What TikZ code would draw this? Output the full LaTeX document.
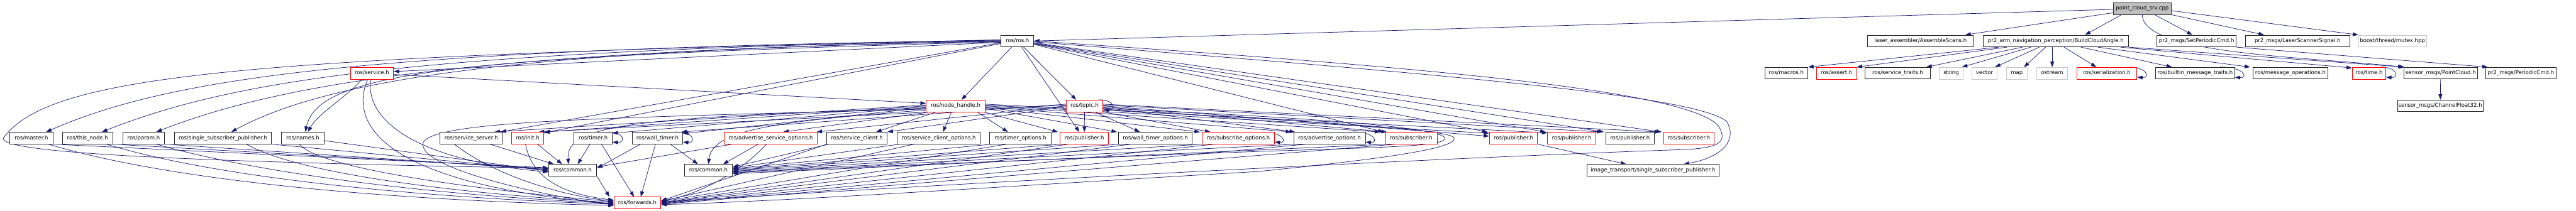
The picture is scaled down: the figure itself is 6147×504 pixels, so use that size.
\documentclass[tikz,border=0pt]{standalone}
\usepackage{fontspec}
\setmainfont{DejaVu Sans}
\usetikzlibrary{arrows.meta}
\definecolor{edgec}{HTML}{191970}
\definecolor{grayfill}{HTML}{BFBFBF}
\definecolor{grayline}{HTML}{C8C8C8}
\pgfdeclarelayer{bg}
\pgfsetlayers{bg,main}
\newcommand\nodefont{\fontsize{12.8}{15}\selectfont}
\tikzset{
  nb/.style={draw=black!85, line width=1.4pt, fill=white, minimum height=28pt, inner sep=0pt,
             font=\nodefont, text height=9.6pt, text depth=2.6pt},
  nr/.style={nb, draw=red, line width=1.2pt},
  ng/.style={nb, draw=grayline, line width=1.2pt},
  e/.style={draw=edgec, line width=1.1pt, -{Triangle[length=13pt,width=9pt]}},
}
\begin{document}
\begin{tikzpicture}[x=1pt,y=1pt]
\useasboundingbox (0,0) rectangle (6147,-504);
% row 0
\node[nb, fill=grayfill, minimum width=138pt] (pcs) at (5112,-20.5) {point\_cloud\_srv.cpp};
% row 1
\node[nb, minimum width=78pt] (rosh) at (2428,-98) {ros/ros.h};
\node[nb, minimum width=252pt] (laser) at (4583,-98) {laser\_assembler/AssembleScans.h};
\node[nb, minimum width=347pt] (bca) at (4905.5,-98) {pr2\_arm\_navigation\_perception/BuildCloudAngle.h};
\node[nb, minimum width=189pt] (setper) at (5241.5,-98) {pr2\_msgs/SetPeriodicCmd.h};
\node[nb, minimum width=249pt] (lscan) at (5482.5,-98) {pr2\_msgs/LaserScannerSignal.h};
\node[ng, minimum width=162pt] (mutex) at (5709,-98) {boost/thread/mutex.hpp};
% row 2
\node[nr, minimum width=103pt] (service) at (887.5,-175) {ros/service.h};
\node[nb, minimum width=103pt] (macros) at (4262.5,-175) {ros/macros.h};
\node[nr, minimum width=95pt] (assert) at (4382.5,-175) {ros/assert.h};
\node[nb, minimum width=155pt] (srvtraits) at (4528.5,-175) {ros/service\_traits.h};
\node[ng, minimum width=56pt] (string) at (4656,-175) {string};
\node[ng, minimum width=59pt] (vector) at (4735.5,-175) {vector};
\node[ng, minimum width=49pt] (map) at (4812.5,-175) {map};
\node[ng, minimum width=74pt] (ostream) at (4897,-175) {ostream};
\node[nr, minimum width=143pt] (serial) at (5027.5,-175) {ros/serialization.h};
\node[nb, minimum width=188pt] (builtin) at (5238,-175) {ros/builtin\_message\_traits.h};
\node[nb, minimum width=179pt] (msgops) at (5465.5,-175) {ros/message\_operations.h};
\node[nr, minimum width=80pt] (time) at (5653,-175) {ros/time.h};
\node[nb, minimum width=176pt] (pcloud) at (5824,-175) {sensor\_msgs/PointCloud.h};
\node[nb, minimum width=167pt] (periodic) at (6015.5,-175) {pr2\_msgs/PeriodicCmd.h};
% row 3
\node[nr, minimum width=141pt] (nodeh) at (2280.5,-253) {ros/node\_handle.h};
\node[nr, minimum width=88pt] (topic) at (2588,-253) {ros/topic.h};
\node[nb, minimum width=204pt] (channel) at (5823,-253) {sensor\_msgs/ChannelFloat32.h};
% row 4
\node[nb, minimum width=104pt] (master) at (75,-330) {ros/master.h};
\node[nb, minimum width=120pt] (thisnode) at (209,-330) {ros/this\_node.h};
\node[nb, minimum width=100pt] (param) at (343,-330) {ros/param.h};
\node[nb, minimum width=232pt] (ssp) at (532,-330) {ros/single\_subscriber\_publisher.h};
\node[nb, minimum width=101pt] (names) at (722.5,-330) {ros/names.h};
\node[nb, minimum width=149pt] (srvserver) at (1124.5,-330) {ros/service\_server.h};
\node[nr, minimum width=76pt] (init) at (1259,-330) {ros/init.h};
\node[nb, minimum width=91pt] (timer) at (1415.5,-330) {ros/timer.h};
\node[nb, minimum width=120pt] (walltimer) at (1569,-330) {ros/wall\_timer.h};
\node[nr, minimum width=222pt] (advsrvopts) at (1839,-330) {ros/advertise\_service\_options.h};
\node[nb, minimum width=144pt] (srvclient) at (2045,-330) {ros/service\_client.h};
\node[nb, minimum width=198pt] (srvclientopts) at (2240,-330) {ros/service\_client\_options.h};
\node[nb, minimum width=146pt] (timeropts) at (2435,-330) {ros/timer\_options.h};
\node[nr, minimum width=115pt] (pubA) at (2587.5,-330) {ros/publisher.h};
\node[nb, minimum width=176pt] (wtopts) at (2757,-330) {ros/wall\_timer\_options.h};
\node[nr, minimum width=172pt] (subopts) at (2955,-330) {ros/subscribe\_options.h};
\node[nb, minimum width=171pt] (advopts) at (3172.5,-330) {ros/advertise\_options.h};
\node[nr, minimum width=123pt] (subA) at (3367.5,-330) {ros/subscriber.h};
\node[nr, minimum width=115pt] (pubB) at (3611.5,-330) {ros/publisher.h};
\node[nr, minimum width=115pt] (pubC) at (3750.5,-330) {ros/publisher.h};
\node[nb, minimum width=115pt] (pubD) at (3889.5,-330) {ros/publisher.h};
\node[nr, minimum width=120pt] (subB) at (4030,-330) {ros/subscriber.h};
% row 5
\node[nb, minimum width=115pt] (commonA) at (1366.5,-407) {ros/common.h};
\node[nb, minimum width=115pt] (commonB) at (1690.5,-407) {ros/common.h};
\node[nb, minimum width=315pt] (itssp) at (3944.5,-407) {image\_transport/single\_subscriber\_publisher.h};
% row 6
\node[nr, minimum width=112pt] (fwd) at (1521,-485) {ros/forwards.h};

\begin{pgfonlayer}{bg}
% ---- from point_cloud_srv.cpp
\draw[e] ([yshift=-2]pcs.west) -- (rosh.east);
\draw[e] ([yshift=-10]pcs.west) -- ([xshift=-20]laser.north east);
\draw[e] ([xshift=20]pcs.south west) -- ([xshift=70]bca.north);
\draw[e] ([xshift=-40]pcs.south east) -- ([xshift=-10]setper.north);
\draw[e] (pcs.south east) -- ([xshift=-80]lscan.north);
\draw[e] ([yshift=-5]pcs.east) -- (mutex.north west);
\draw[e] (pcs.south) .. controls (5112,-130) and (5500,-135) .. (pcloud.north west);
% ---- from BuildCloudAngle.h
\draw[e] ([xshift=38]bca.south west) -- (macros.north east);
\draw[e] ([xshift=58]bca.south west) -- (assert.north east);
\draw[e] ([xshift=95]bca.south west) -- ([xshift=-10]srvtraits.north east);
\draw[e] ([xshift=115]bca.south west) -- ([xshift=-3]string.north east);
\draw[e] ([xshift=135]bca.south west) -- ([xshift=-5]vector.north east);
\draw[e] ([xshift=150]bca.south west) -- ([xshift=-8]map.north east);
\draw[e] (bca.south -| ostream.north) -- (ostream.north);
\draw[e] ([xshift=20]bca.south) -- ([xshift=-25]serial.north);
\draw[e] ([xshift=60]bca.south) -- ([xshift=-55]builtin.north);
\draw[e] ([xshift=100]bca.south) -- ([xshift=-6]msgops.north west);
\draw[e] ([xshift=-20]bca.south east) -- ([yshift=-2]time.north west);
\draw[e] (bca.south east) -- ([xshift=3]pcloud.north west);
\draw[e] (setper.south east) -- ([xshift=5]periodic.north west);
\draw[e] (pcloud) -- (channel);
% ---- self loops
\draw[e] ([xshift=-12]time.north east) .. controls +(40,0) and +(32,-2) .. ([yshift=5]time.south east);
\draw[e] ([xshift=-20]serial.north east) .. controls +(45,0) and +(32,-2) .. ([yshift=5]serial.south east);
\draw[e] ([xshift=-35]builtin.north east) .. controls +(60,0) and +(32,-2) .. ([yshift=5]builtin.south east);
\draw[e] ([xshift=-10]timer.north east) .. controls +(40,0) and +(30,-2) .. ([yshift=5]timer.south east);
\draw[e] ([xshift=-18]walltimer.north east) .. controls +(48,0) and +(30,-2) .. ([yshift=5]walltimer.south east);
\draw[e] ([xshift=-10]topic.north east) .. controls +(40,0) and +(30,-2) .. ([yshift=5]topic.south east);
\draw[e] ([xshift=-32]subopts.north east) .. controls +(55,0) and +(30,-2) .. ([yshift=5]subopts.south east);
\draw[e] ([xshift=-30]advopts.north east) .. controls +(55,0) and +(30,-2) .. ([yshift=5]advopts.south east);
% ---- from ros/ros.h, left
\draw[e] ([yshift=2]rosh.west) .. controls (900,-118) and (420,-180) .. ([xshift=35]master.north);
\draw[e] ([yshift=1]rosh.west) .. controls (1000,-120) and (560,-190) .. ([xshift=34]thisnode.north);
\draw[e] (rosh.west) .. controls (1150,-122) and (680,-195) .. ([xshift=30]param.north);
\draw[e] ([yshift=-1]rosh.west) .. controls (1300,-118) and (800,-180) .. ([xshift=20]ssp.north);
\draw[e] ([yshift=-2]rosh.west) .. controls (1100,-135) and (760,-170) .. ([xshift=6]names.north);
\draw[e] ([yshift=-3]rosh.west) -- ([yshift=4]service.east);
\draw[e] ([yshift=-4]rosh.west) -- ([xshift=-5]srvserver.north east);
\draw[e] ([yshift=-6]rosh.west) -- ([yshift=-2]init.north east);
\draw[e] ([yshift=3]rosh.west) .. controls (600,-135) and (120,-175) .. (8,-330) .. controls (0,-362) and (350,-385) .. ([yshift=5]commonA.west);
% ---- from ros/ros.h, down and right
\draw[e] (rosh) -- (nodeh);
\draw[e] (rosh) -- ([xshift=-20]topic.north);
\draw[e] ([xshift=10]rosh.south) -- ([xshift=-12]pubA.north);
\draw[e] ([yshift=-8]rosh.east) -- ([xshift=-4]subA.north west);
\draw[e] ([yshift=-7]rosh.east) -- ([xshift=-4]pubB.north west);
\draw[e] ([yshift=-6]rosh.east) -- ([xshift=-4]pubC.north west);
\draw[e] ([yshift=-5]rosh.east) -- ([xshift=-4]pubD.north west);
\draw[e] ([yshift=-4]rosh.east) -- ([xshift=-4]subB.north west);
\draw[e] ([yshift=-2]rosh.east) .. controls (3400,-175) and (4040,-225) .. (4120,-290) .. controls (4150,-340) and (4100,-378) .. ([xshift=-85]itssp.north east);
\draw[e] (rosh.east) .. controls (3400,-160) and (4020,-215) .. (4100,-300) .. controls (4125,-340) and (4100,-352) .. (4030,-357) .. controls (3500,-375) and (2500,-425) .. ([yshift=2]fwd.east);
% ---- from ros/service.h
\draw[e] ([xshift=28]service.south west) .. controls (830,-230) and (760,-270) .. ([xshift=12]names.north);
\draw[e] ([yshift=-3]service.east) -- ([yshift=6]nodeh.west);
\draw[e] ([xshift=50]service.south west) .. controls (870,-270) and (960,-380) .. ([yshift=-4]commonA.west);
\draw[e] ([xshift=42]service.south west) .. controls (830,-300) and (920,-440) .. ([yshift=-2]fwd.west);
% ---- from ros/node_handle.h, left
\draw[e] ([yshift=2]nodeh.west) -- ([xshift=-20]srvserver.north east);
\draw[e] ([yshift=0]nodeh.west) -- ([xshift=2]init.north east);
\draw[e] ([yshift=-2]nodeh.west) -- ([yshift=-3]timer.north east);
\draw[e] ([yshift=-4]nodeh.west) -- ([yshift=-4]walltimer.north east);
\draw[e] ([xshift=10]nodeh.south west) -- ([xshift=30]advsrvopts.north);
\draw[e] ([yshift=-6]nodeh.west) .. controls (1500,-280) and (1350,-300) .. ([xshift=-10]commonA.north);
\draw[e] ([yshift=-8]nodeh.west) .. controls (1400,-282) and (1040,-290) .. (1010,-340) .. controls (990,-400) and (1300,-470) .. ([yshift=-4]fwd.west);
\draw[e] ([yshift=-10]nodeh.west) .. controls (1850,-290) and (1700,-310) .. (commonB.north);
% ---- from ros/node_handle.h, down and right
\draw[e] ([xshift=25]nodeh.south west) -- ([xshift=-27]srvclient.north east);
\draw[e] ([xshift=-10]nodeh.south) -- ([xshift=10]srvclientopts.north);
\draw[e] ([xshift=-20]nodeh.south east) -- ([xshift=-30]timeropts.north);
\draw[e] ([xshift=-5]nodeh.south east) -- ([xshift=-5]pubA.north west);
\draw[e] ([yshift=-6]nodeh.east) -- ([xshift=-3]wtopts.north west);
\draw[e] ([yshift=-4]nodeh.east) -- ([xshift=-5]subopts.north west);
\draw[e] ([yshift=-2]nodeh.east) -- ([xshift=-5]advopts.north west);
\draw[e] ([yshift=0]nodeh.east) -- ([xshift=-12]subA.north west);
\draw[e] ([yshift=2]nodeh.east) -- ([yshift=-3]pubB.north west);
\draw[e] ([yshift=4]nodeh.east) -- ([yshift=-2]pubC.north west);
% ---- from ros/topic.h
\draw[e] (topic.south) -- (pubA.north);
\draw[e] ([xshift=-20]topic.south east) -- ([xshift=-37]wtopts.north);
\draw[e] (topic.south east) -- ([xshift=20]subopts.north west);
\draw[e] ([yshift=-2]topic.west) -- (srvclient.north east);
\draw[e] ([yshift=0]topic.west) -- ([xshift=-2]advsrvopts.north east);
\draw[e] ([yshift=2]topic.west) -- ([xshift=-12]init.north east);
\draw[e] ([yshift=4]topic.west) -- ([xshift=-4]walltimer.north east);
\draw[e] ([yshift=-4]topic.east) -- ([xshift=4]advopts.north west);
\draw[e] ([yshift=-2]topic.east) -- ([xshift=4]subA.north west);
\draw[e] ([yshift=0]topic.east) -- ([yshift=-10]pubB.north west);
\draw[e] ([yshift=2]topic.east) -- ([xshift=-8]pubD.north west);
\draw[e] ([yshift=4]topic.east) -- ([xshift=-8]subB.north west);
\draw[e] ([yshift=-6]topic.east) .. controls (3000,-275) and (3440,-300) .. (3448,-330) .. controls (3452,-350) and (3300,-352) .. (3000,-362) .. controls (2400,-385) and (2000,-400) .. ([yshift=-6]commonB.east);
\draw[e] ([yshift=-8]topic.east) .. controls (3000,-285) and (3465,-305) .. (3470,-330) .. controls (3475,-355) and (3300,-380) .. (3000,-410) .. controls (2400,-445) and (1900,-480) .. ([yshift=-4]fwd.east);
% ---- left group to common / forwards
\draw[e] (master.south east) -- ([yshift=6]commonA.west);
\draw[e] ([xshift=-12]master.south east) .. controls (400,-430) and (900,-478) .. ([yshift=-6]fwd.west);
\draw[e] (thisnode.south east) -- ([yshift=4]commonA.west);
\draw[e] ([xshift=-15]thisnode.south east) .. controls (500,-420) and (950,-470) .. ([yshift=-3]fwd.west);
\draw[e] (param.south east) -- ([yshift=2]commonA.west);
\draw[e] ([xshift=-20]param.south east) .. controls (600,-410) and (1000,-465) .. ([yshift=-1]fwd.west);
\draw[e] (ssp.south east) -- ([yshift=0]commonA.west);
\draw[e] ([xshift=-60]ssp.south east) .. controls (700,-410) and (1050,-460) .. ([yshift=1]fwd.west);
\draw[e] ([yshift=-6]names.east) -- ([yshift=-2]commonA.west);
\draw[e] ([xshift=-8]names.south) .. controls (760,-400) and (1100,-450) .. ([yshift=3]fwd.west);
\draw[e] ([xshift=-30]srvserver.south east) -- ([xshift=-45]commonA.north);
\draw[e] ([xshift=-40]srvserver.south) .. controls (1180,-420) and (1350,-470) .. ([yshift=5]fwd.west);
\draw[e] ([xshift=-15]init.south east) -- ([xshift=-25]commonA.north);
\draw[e] ([xshift=-5]init.south) .. controls (1270,-430) and (1350,-465) .. ([yshift=7]fwd.west);
\draw[e] ([xshift=-8]timer.south) -- ([xshift=12]commonA.north);
\draw[e] ([xshift=20]timer.south) -- ([xshift=-8]fwd.north);
\draw[e] ([xshift=20]walltimer.south west) -- ([yshift=5]commonA.east);
\draw[e] ([xshift=-30]walltimer.south east) -- ([xshift=-25]commonB.north);
\draw[e] ([xshift=-5]walltimer.south) -- ([xshift=8]fwd.north);
\draw[e] ([xshift=20]advsrvopts.south west) -- ([yshift=8]commonA.east);
\draw[e] ([xshift=-30]advsrvopts.south) -- ([xshift=35]commonB.north);
\draw[e] ([xshift=-10]advsrvopts.south) .. controls (1760,-420) and (1650,-470) .. ([yshift=6]fwd.east);
\draw[e] (commonA.south east) -- ([xshift=-10]fwd.north west);
% ---- right group to common / forwards
\draw[e] ([xshift=5]srvclient.south west) -- ([yshift=8]commonB.east);
\draw[e] (srvclient.south west) -- ([yshift=5]fwd.east);
\draw[e] ([xshift=5]srvclientopts.south west) -- ([yshift=6]commonB.east);
\draw[e] ([xshift=40]srvclientopts.south west) -- ([yshift=4]fwd.east);
\draw[e] ([xshift=5]timeropts.south west) -- ([yshift=4]commonB.east);
\draw[e] ([xshift=40]timeropts.south west) -- ([yshift=3]fwd.east);
\draw[e] ([xshift=5]pubA.south west) -- ([yshift=2]commonB.east);
\draw[e] ([xshift=20]pubA.south west) -- ([yshift=1]fwd.east);
\draw[e] ([xshift=5]wtopts.south west) -- ([yshift=0]commonB.east);
\draw[e] ([xshift=30]wtopts.south west) -- ([yshift=0]fwd.east);
\draw[e] ([xshift=5]subopts.south west) -- ([yshift=-2]commonB.east);
\draw[e] ([xshift=30]subopts.south west) -- ([yshift=-1]fwd.east);
\draw[e] ([xshift=5]advopts.south west) -- ([yshift=-4]commonB.east);
\draw[e] ([xshift=30]advopts.south west) -- ([yshift=-2]fwd.east);
\draw[e] ([xshift=5]subA.south west) -- ([yshift=-8]commonB.east);
\draw[e] ([xshift=25]subA.south west) -- ([yshift=-3]fwd.east);
\draw[e] (pubB.south east) -- ([xshift=-64]itssp.north);
\end{pgfonlayer}
\end{tikzpicture}
\end{document}
